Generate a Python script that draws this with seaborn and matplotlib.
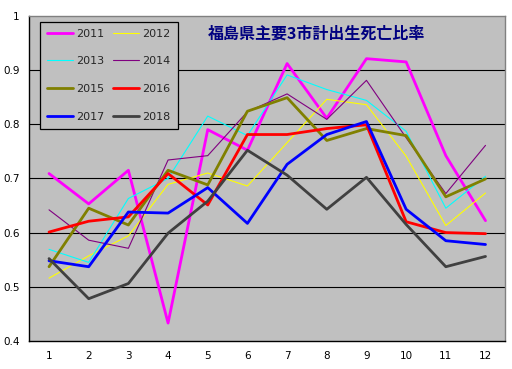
import matplotlib
matplotlib.use("Agg")
import matplotlib.pyplot as plt
import seaborn as sns
import pandas as pd
import numpy as np

months = [1, 2, 3, 4, 5, 6, 7, 8, 9, 10, 11, 12]
years = ["2011", "2012", "2013", "2014", "2015", "2016", "2017", "2018"]

v2011 = [0.709, 0.653, 0.715, 0.433, 0.790, 0.752, 0.912, 0.811, 0.921, 0.915, 0.742, 0.622]
v2012 = [0.516, 0.557, 0.594, 0.689, 0.710, 0.686, 0.766, 0.846, 0.836, 0.741, 0.613, 0.673]
v2013 = [0.569, 0.545, 0.663, 0.700, 0.815, 0.779, 0.891, 0.864, 0.844, 0.787, 0.645, 0.704]
v2014 = [0.642, 0.586, 0.571, 0.734, 0.742, 0.823, 0.856, 0.809, 0.881, 0.775, 0.672, 0.761]
v2015 = [0.537, 0.645, 0.614, 0.715, 0.688, 0.824, 0.849, 0.770, 0.792, 0.779, 0.666, 0.699]
v2016 = [0.601, 0.621, 0.629, 0.709, 0.651, 0.781, 0.781, 0.792, 0.799, 0.620, 0.600, 0.598]
v2017 = [0.548, 0.537, 0.638, 0.636, 0.683, 0.617, 0.726, 0.781, 0.805, 0.643, 0.585, 0.578]
v2018 = [0.552, 0.478, 0.506, 0.599, 0.658, 0.752, 0.706, 0.643, 0.702, 0.615, 0.537, 0.556]

series = [v2011, v2012, v2013, v2014, v2015, v2016, v2017, v2018]
colors = ["#FF00FF", "#FFFF00", "#00FFFF", "#800080", "#808000", "#FF0000", "#0000FF", "#404040"]
widths = [2.0, 0.8, 0.8, 0.8, 2.0, 2.0, 2.0, 2.0]

title = "福島県主要3市計出生死亡比率"

df = pd.DataFrame({
    "month": months * len(years),
    "year": [y for y in years for _ in months],
    "value": [v for s in series for v in s],
})

sns.set_theme(style="white")
plt.rcParams["font.family"] = ["DejaVu Sans", "Noto Sans CJK JP"]

fig = plt.figure(figsize=(5.12, 3.69), dpi=100)
ax = fig.add_axes([0.057, 0.076, 0.930, 0.881])
ax.set_facecolor("#C0C0C0")

handles = {}
for yr, col, lw in zip(years, colors, widths):
    sub = df[df["year"] == yr]
    sns.lineplot(data=sub, x="month", y="value", color=col, linewidth=lw, ax=ax,
                 legend=False, label=yr)
    handles[yr] = ax.lines[-1]

ax.set_xlim(0.5, 12.5)
ax.set_ylim(0.4, 1.0)
ax.set_xticks(months)
ax.set_xticklabels([str(m) for m in months])
ax.set_xticks(np.arange(1.5, 12.5, 1.0), minor=True)
ax.set_yticks([0.4, 0.5, 0.6, 0.7, 0.8, 0.9, 1.0])
ax.set_yticklabels(["0.4", "0.5", "0.6", "0.7", "0.8", "0.9", "1"])
ax.tick_params(axis="x", which="major", length=0, pad=7, labelsize=7.5, colors="black")
ax.tick_params(axis="x", which="minor", length=3, width=0.8, direction="out", color="black")
ax.tick_params(axis="y", which="major", length=0, pad=7, labelsize=7.5, colors="black")
ax.set_xlabel("")
ax.set_ylabel("")

for yv in [0.5, 0.6, 0.7, 0.8, 0.9]:
    ax.axhline(yv, color="black", linewidth=0.8, zorder=0.5)

for side in ["left", "bottom"]:
    ax.spines[side].set_color("black")
    ax.spines[side].set_linewidth(1.0)
for side in ["top", "right"]:
    ax.spines[side].set_color("#808080")
    ax.spines[side].set_linewidth(1.0)

# row-major order (2011 2012 / 2013 2014 / ...)
order = years[0::2] + years[1::2]
leg = ax.legend(handles=[handles[y] for y in order], labels=order, ncol=2,
                loc="upper left", bbox_to_anchor=(0.0225, 0.9815), borderaxespad=0,
                fontsize=8, handlelength=2.4, handletextpad=0.3,
                columnspacing=0.7, labelspacing=1.6, fancybox=False,
                frameon=True, borderpad=0.6)
leg.get_frame().set_facecolor("#C0C0C0")
leg.get_frame().set_edgecolor("black")
leg.get_frame().set_linewidth(0.9)
leg.get_frame().set_alpha(1)

ax.text(0.604, 0.945, title, transform=ax.transAxes, ha="center", va="center",
        fontsize=11.5, fontweight="bold", color="#000080",
        family=["Noto Sans CJK JP", "DejaVu Sans"])

fig.savefig("out.png", dpi=100, facecolor="white")
